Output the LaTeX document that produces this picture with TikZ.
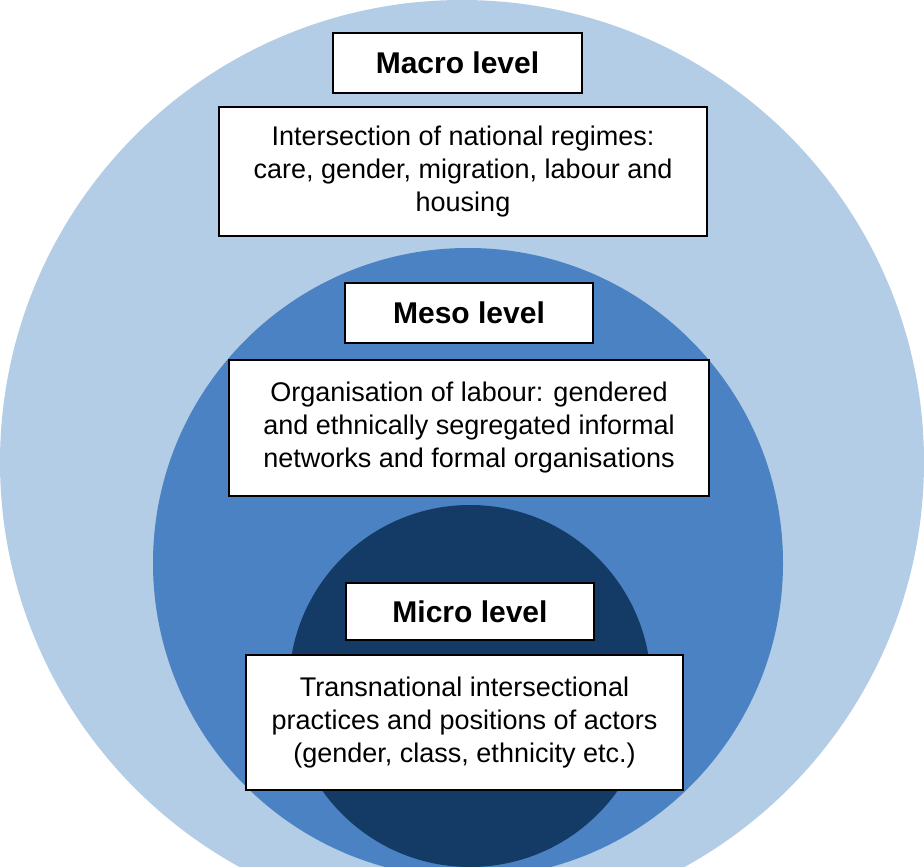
\documentclass[tikz,border=0pt]{standalone}
\usepackage{fontspec}
\setmainfont{Liberation Sans}
\definecolor{lightb}{HTML}{B3CDE6}
\definecolor{midb}{HTML}{4A82C3}
\definecolor{darkb}{HTML}{143A66}
\begin{document}
\begin{tikzpicture}[x=1pt,y=-1pt,
  box/.style={draw=black,line width=1.2pt,fill=white,inner sep=0pt,font=\fontsize{27}{33}\selectfont,align=center},
  title/.style={box,font=\fontsize{30}{33}\selectfont\bfseries}]
\useasboundingbox (0,0) rectangle (924,867);
\begin{scope}
\clip (0,0) rectangle (924,867);
\fill[lightb] (462,462) circle (462);
\fill[midb] (468,563) circle (315);
\fill[darkb] (470,686) circle (181);
\end{scope}
\node[title,minimum width=249,minimum height=60] (macro) at (457.5,63) {Macro level};
\node[box,minimum width=488,minimum height=129] (mt) at (463,171.5) {Intersection of national regimes:\\care, gender, migration, labour and\\housing};
\node[title,minimum width=248,minimum height=60] (meso) at (469,313) {Meso level};
\node[box,minimum width=480,minimum height=136] (st) at (469,428) {Organisation of labour: gendered\\and ethnically segregated informal\\networks and formal organisations};
\node[title,minimum width=248,minimum height=57] (micro) at (470,611.5) {Micro level};
\node[box,minimum width=437,minimum height=135] (it) at (464.5,722.5) {Transnational intersectional\\practices and positions of actors\\(gender, class, ethnicity etc.)};
\end{tikzpicture}
\end{document}
